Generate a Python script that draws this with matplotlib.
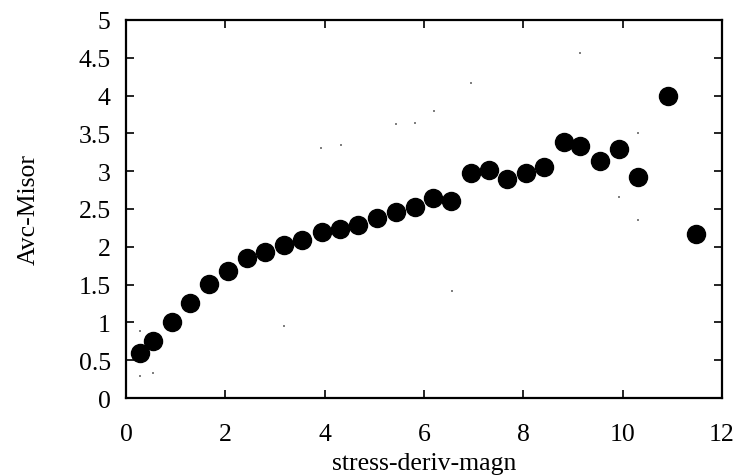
import matplotlib
matplotlib.use("Agg")
import matplotlib.pyplot as plt

plt.rcParams['font.family'] = ['Liberation Serif', 'DejaVu Serif']

# average misorientation vs stress derivative magnitude
stress = [0.28, 0.55, 0.92, 1.29, 1.68, 2.06, 2.43, 2.80, 3.19, 3.55,
          3.94, 4.31, 4.68, 5.06, 5.44, 5.82, 6.18, 6.55, 6.94, 7.30,
          7.67, 8.05, 8.42, 8.81, 9.14, 9.55, 9.92, 10.31, 10.91, 11.47]
misor = [0.60, 0.76, 1.01, 1.26, 1.51, 1.68, 1.85, 1.93, 2.02, 2.09,
         2.20, 2.24, 2.29, 2.385, 2.46, 2.52, 2.64, 2.61, 2.98, 3.01,
         2.90, 2.97, 3.05, 3.39, 3.33, 3.13, 3.30, 2.92, 3.99, 2.17]

# faint stray points
stray_x = [0.28, 0.28, 0.55, 3.19, 3.92, 4.33, 5.43, 5.82, 6.20, 6.56,
           6.94, 9.15, 9.92, 10.30, 10.30]
stray_y = [0.88, 0.295, 0.335, 0.95, 3.31, 3.35, 3.63, 3.64, 3.80, 1.42,
           4.17, 4.56, 2.66, 3.50, 2.36]

xticks = [0, 2, 4, 6, 8, 10, 12]
yticks = [0, 0.5, 1, 1.5, 2, 2.5, 3, 3.5, 4, 4.5, 5]
yticklabels = ['0', '0.5', '1', '1.5', '2', '2.5', '3', '3.5', '4', '4.5', '5']

fig = plt.figure(figsize=(7.39, 4.77), dpi=100)
ax = fig.add_axes([0.1705, 0.1635, 0.8065, 0.7925])

ax.plot(stray_x, stray_y, 's', color='#808080', markersize=1.6, markeredgewidth=0)
ax.plot(stress, misor, 'o', color='black', markersize=13)

ax.set_xlim(0, 12)
ax.set_ylim(0, 5)
ax.set_xticks(xticks)
ax.set_yticks(yticks)
ax.set_yticklabels(yticklabels)

for s in ax.spines.values():
    s.set_linewidth(1.6)
ax.tick_params(direction='in', length=5.5, width=1.2, top=True, right=True,
               labelsize=18.5)
ax.tick_params(axis='x', pad=18)
ax.tick_params(axis='y', pad=11)

ax.set_xlabel('stress-deriv-magn', fontsize=18.5, labelpad=5)
ax.set_ylabel('Avc-Misor', fontsize=18.5, labelpad=28)

fig.savefig('out.png', dpi=100)
